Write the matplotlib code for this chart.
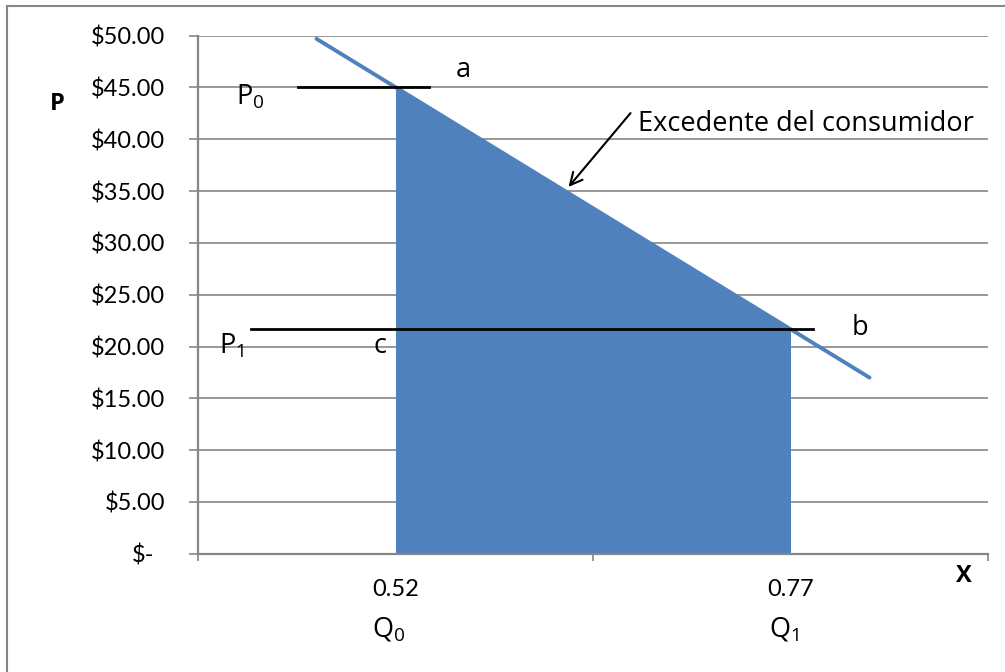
import matplotlib
matplotlib.use("Agg")
import matplotlib.pyplot as plt
from matplotlib.lines import Line2D
from matplotlib.transforms import blended_transform_factory

plt.rcParams['font.family'] = ['Lato', 'DejaVu Sans']
plt.rcParams['mathtext.fontset'] = 'custom'
plt.rcParams['mathtext.rm'] = 'Open Sans'
plt.rcParams['mathtext.it'] = 'Open Sans:italic'

# quantities on the category axis and prices
categories = ["0.52", "0.77"]
quantity_names = [r"Q$_{\mathrm{0}}$", r"Q$_{\mathrm{1}}$"]
surplus_price = [45.0, 21.66]          # price at Q0 and Q1 (top of the shaded area)
demand_x = [-0.2, 1.2]                 # demand curve runs a bit past both categories
demand_price = [49.7, 17.0]
p0_price = 45.0
p1_price = 21.66
p0_span = [-0.246, 0.084]
p1_span = [-0.367, 1.058]
y_ticks = [0, 5, 10, 15, 20, 25, 30, 35, 40, 45, 50]
y_tick_labels = ["$-" if v == 0 else "${:.2f}".format(v) for v in y_ticks]

blue = "#4F81BD"
grid_gray = "#868686"
txt = 17
word = dict(family=["Open Sans", "DejaVu Sans"], fontsize=19.5)
axis_name = dict(family=["Open Sans", "DejaVu Sans"], fontsize=17, fontweight="bold")

fig = plt.figure(figsize=(10.05, 6.72), dpi=100)
ax = fig.add_axes([198 / 1005, 1 - 553.7 / 672, 790 / 1005, 518 / 672])

x = list(range(len(categories)))
ax.fill_between(x, surplus_price, 0, color=blue, linewidth=0, zorder=2)
ax.plot(demand_x, demand_price, color=blue, lw=2.8, solid_capstyle="round", zorder=3)
ax.plot(p0_span, [p0_price, p0_price], color="black", lw=2.0, zorder=4)
ax.plot(p1_span, [p1_price, p1_price], color="black", lw=2.0, zorder=4)

ax.set_xlim(-0.5, 1.5)
ax.set_ylim(0, 50)

# gridlines and axes in excel gray
ax.set_yticks(y_ticks)
ax.set_yticklabels([])
ax.yaxis.grid(True, color=grid_gray, lw=1.2, zorder=0)
ax.set_axisbelow(True)
ax.tick_params(axis="y", length=6.5, width=1.2, color=grid_gray, direction="out")
ax.set_xticks([-0.5, 0.5, 1.5])
ax.set_xticklabels([])
ax.tick_params(axis="x", length=5, width=1.2, color=grid_gray, direction="out")
for side in ["top", "right"]:
    ax.spines[side].set_visible(False)
for side in ["left", "bottom"]:
    ax.spines[side].set_color(grid_gray)
    ax.spines[side].set_linewidth(1.6)
ax.spines["left"].set_zorder(5)

yt = blended_transform_factory(ax.transAxes, ax.transData)
for v, lab in zip(y_ticks, y_tick_labels):
    xpos = -0.0557 if v == 0 else -0.0418
    ax.text(xpos, v, lab, transform=yt, ha="right", va="center_baseline",
            fontsize=txt, clip_on=False)

for xi, lab, name in zip(x, categories, quantity_names):
    ax.text(xi, -4.08, lab, ha="center", va="baseline", fontsize=txt, clip_on=False)
    ax.text(xi - 0.017, -8.0, name, ha="center", va="baseline", clip_on=False, **word)

ax.text(-0.856, 42.8, "P", ha="center", va="baseline", clip_on=False, **axis_name)
ax.text(1.438, -2.73, "X", ha="center", va="baseline", clip_on=False, **axis_name)

ax.text(-0.405, 43.4, r"P$_{\mathrm{0}}$", ha="left", va="baseline", **word)
ax.text(-0.446, 19.28, r"P$_{\mathrm{1}}$", ha="left", va="baseline", **word)
ax.text(0.172, 46.7, "a", ha="center", va="center", **word)
ax.text(-0.038, 19.34, "c", ha="center", va="baseline", **word)
ax.text(1.177, 21.1, "b", ha="center", va="baseline", **word)

ax.annotate("", xy=(0.438, 35.4), xytext=(0.595, 42.53),
            arrowprops=dict(arrowstyle="->", color="black", lw=1.5,
                            mutation_scale=22, shrinkA=0, shrinkB=0))
ax.text(0.613, 40.83, "Excedente del consumidor", ha="left", va="baseline", **word)

# outer chart border (top and left edges only)
fig.add_artist(Line2D([7 / 1005, 1], [1 - 6 / 672, 1 - 6 / 672], color=grid_gray, lw=1.5))
fig.add_artist(Line2D([7 / 1005, 7 / 1005], [0, 1 - 6 / 672], color=grid_gray, lw=1.5))

fig.savefig("out.png", dpi=100)
